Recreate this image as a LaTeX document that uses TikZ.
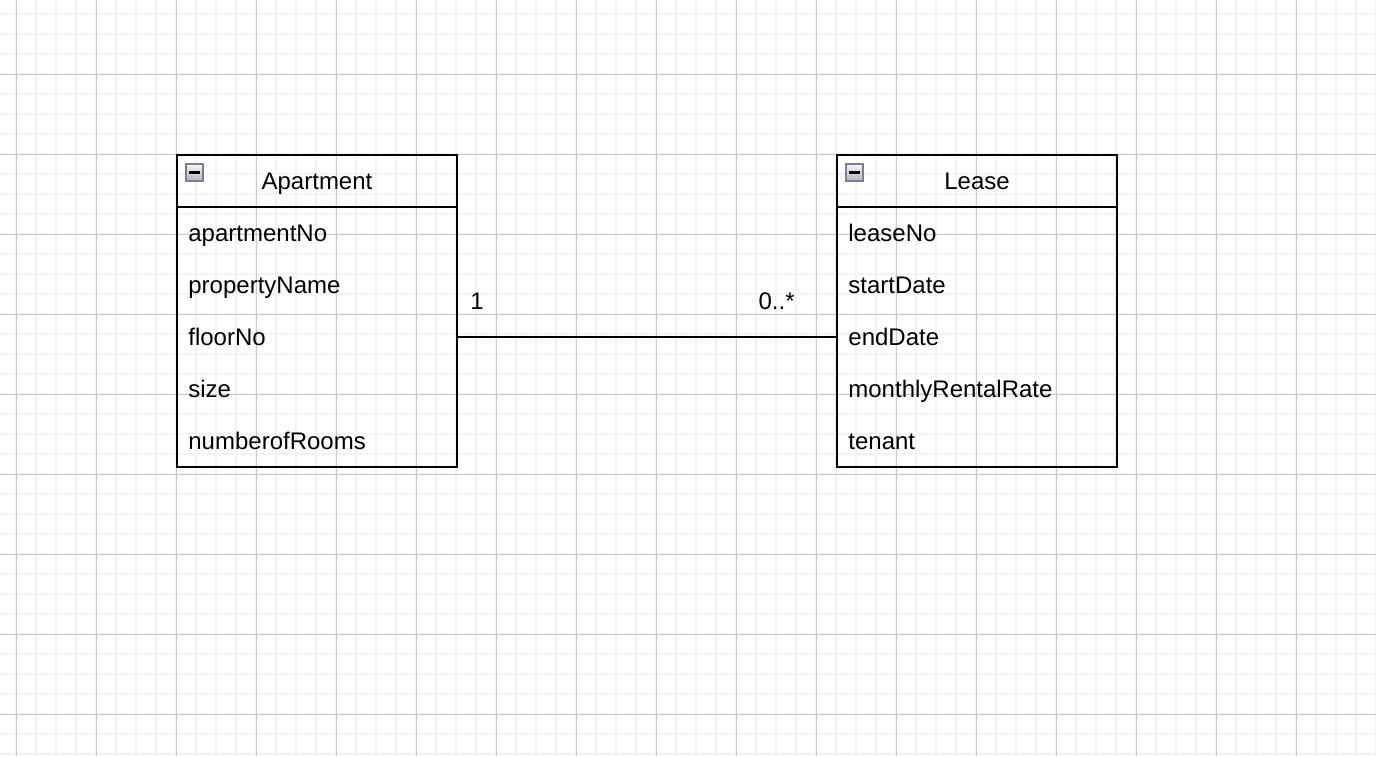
\documentclass[tikz,border=0pt]{standalone}
\usepackage{fontspec}
\setmainfont{Liberation Sans}
\usetikzlibrary{positioning}
\definecolor{gridminor}{HTML}{F3F3F3}
\definecolor{gridmajor}{HTML}{CACACA}
\definecolor{iconedge}{HTML}{7B8090}
\definecolor{icontop}{HTML}{F6F6F8}
\definecolor{iconbot}{HTML}{B2B4BC}
\newcommand{\umlfont}{\fontsize{12}{14}\selectfont}
\tikzset{
    classhead/.style = {draw, line width = 1pt, minimum width = 140pt,
        minimum height = 26pt, inner sep = 0pt, outer sep = 0pt,
        text height = 10pt, text depth = 2pt, font = \umlfont},
    classbody/.style = {draw, line width = 1pt, minimum width = 140pt,
        minimum height = 130pt, inner sep = 0pt, outer sep = 0pt,
        anchor = north},
    attr/.style = {anchor = base west, inner sep = 0pt, font = \umlfont},
    mult/.style = {inner sep = 0pt, font = \umlfont},
    foldicon/.style = {draw = iconedge, line width = 0.7pt, top color = icontop,
        bottom color = iconbot, minimum size = 8.5pt, inner sep = 0pt,
        path picture = {\draw[black, line width = 1.4pt]
            ([xshift = -2.8pt]path picture bounding box.center) --
            ([xshift = 2.8pt]path picture bounding box.center);}}
}
\begin{document}
\begin{tikzpicture}[x = 0.5pt, y = -0.5pt]
        \useasboundingbox (0, 0) rectangle (1376, 756);
        \fill[white] (0, 0) rectangle (1376, 756);

        % grid
        \foreach \x in {16, 36, ..., 1376}
            \draw[gridminor, line width = 0.9pt] (\x, 0) -- (\x, 756);
        \foreach \y in {14, 34, ..., 754}
            \draw[gridminor, line width = 0.9pt] (0, \y) -- (1376, \y);
        \foreach \x in {16, 96, ..., 1376}
            \draw[gridmajor, line width = 0.5pt] (\x, 0) -- (\x, 756);
        \foreach \y in {74, 154, ..., 714}
            \draw[gridmajor, line width = 0.5pt] (0, \y) -- (1376, \y);

        % Apartment
        \node[classhead] (apthead) at (317, 181) {Apartment};
        \node[classbody] (aptbody) at (apthead.south) {};
        \node[foldicon] (apticon) at (194.5, 172.5) {};
        \node[attr] (aptno) at (188, 241) {apartmentNo};
        \node[attr] (aptprop) at (188, 293) {propertyName};
        \node[attr] (aptfloor) at (188, 345) {floorNo};
        \node[attr] (aptsize) at (188, 397) {size};
        \node[attr] (aptrooms) at (188, 449) {numberofRooms};

        % Lease
        \node[classhead] (leasehead) at (977, 181) {Lease};
        \node[classbody] (leasebody) at (leasehead.south) {};
        \node[foldicon] (leaseicon) at (854.5, 172.5) {};
        \node[attr] (leaseno) at (848, 241) {leaseNo};
        \node[attr] (leasestart) at (848, 293) {startDate};
        \node[attr] (leaseend) at (848, 345) {endDate};
        \node[attr] (leaserate) at (848, 397) {monthlyRentalRate};
        \node[attr] (leasetenant) at (848, 449) {tenant};

        % association
        \coordinate (assocA) at (aptbody.east |- 0, 337);
        \coordinate (assocB) at (leasebody.west |- 0, 337);
        \draw[line width = 1pt] (assocA) -- (assocB);
        \node[mult, anchor = base west] (multA) at (470, 309) {1};
        \node[mult, anchor = base east] (multB) at (795, 309) {0..*};
    \end{tikzpicture}
\end{document}
